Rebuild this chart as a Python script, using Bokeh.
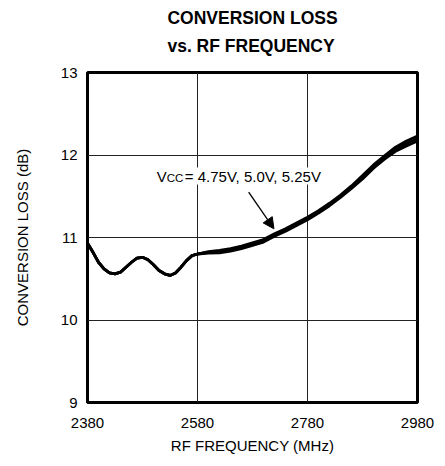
from bokeh.plotting import figure
from bokeh.models import FixedTicker, Label, Arrow, NormalHead, Range1d, Title
from bokeh.embed import file_html
from bokeh.resources import INLINE
import math

# ---- data ----
freq = [2380, 2390, 2400, 2410, 2420, 2430, 2440, 2450, 2460, 2470, 2480, 2490,
        2500, 2510, 2520, 2530, 2540, 2550, 2560, 2570, 2580, 2600, 2620, 2640,
        2660, 2680, 2700, 2720, 2740, 2760, 2780, 2800, 2820, 2840, 2860, 2880,
        2900, 2920, 2940, 2960, 2980]
loss_500 = [10.93, 10.82, 10.70, 10.62, 10.57, 10.56, 10.58, 10.64, 10.70, 10.75, 10.76, 10.73,
            10.67, 10.60, 10.56, 10.54, 10.57, 10.64, 10.72, 10.78, 10.80, 10.82, 10.83, 10.85,
            10.88, 10.92, 10.96, 11.03, 11.09, 11.16, 11.23, 11.31, 11.40, 11.50, 11.61, 11.73,
            11.86, 11.97, 12.07, 12.14, 12.20]
loss_475 = [10.93, 10.82, 10.70, 10.62, 10.57, 10.56, 10.58, 10.64, 10.70, 10.75, 10.76, 10.73,
            10.67, 10.60, 10.56, 10.54, 10.57, 10.64, 10.72, 10.78, 10.80, 10.83, 10.845, 10.865,
            10.895, 10.935, 10.975, 11.045, 11.105, 11.175, 11.245, 11.325, 11.415, 11.515, 11.625, 11.75,
            11.88, 11.99, 12.095, 12.17, 12.23]
loss_525 = [10.93, 10.82, 10.70, 10.62, 10.57, 10.56, 10.58, 10.64, 10.70, 10.75, 10.76, 10.73,
            10.67, 10.60, 10.56, 10.54, 10.57, 10.64, 10.72, 10.78, 10.80, 10.81, 10.815, 10.835,
            10.865, 10.905, 10.945, 11.015, 11.075, 11.145, 11.215, 11.295, 11.385, 11.485, 11.595, 11.71,
            11.84, 11.95, 12.045, 12.11, 12.17]
x_ticks = [2380, 2580, 2780, 2980]
y_ticks = [9, 10, 11, 12, 13]

FONT = "Liberation Sans"

p = figure(width=442, height=462, output_backend="svg", toolbar_location=None,
           x_range=Range1d(2380, 2980), y_range=Range1d(9, 13),
           min_border_left=87, min_border_right=25, min_border_top=72, min_border_bottom=60)
p.title.text = "CONVERSION LOSS\nvs. RF FREQUENCY"
p.title.align = "center"
p.title.text_font = FONT
p.title.text_font_size = "17.5px"
p.title.text_font_style = "bold"
p.title.text_color = "black"
p.title.text_line_height = 1.4

# spacer that lifts the title away from the frame
p.add_layout(Title(text=" ", text_font_size="9px", standoff=0), "above")

p.outline_line_color = "black"
p.outline_line_width = 3
p.outline_line_alpha = 1

for g, tk in ((p.xgrid, x_ticks), (p.ygrid, y_ticks)):
    g.ticker = FixedTicker(ticks=tk)
    g.grid_line_color = "#222222"
    g.grid_line_width = 1
    g.grid_line_alpha = 1

p.xaxis.ticker = FixedTicker(ticks=x_ticks)
p.yaxis.ticker = FixedTicker(ticks=y_ticks)
for ax in (p.xaxis[0], p.yaxis[0]):
    ax.axis_line_color = None
    ax.major_tick_line_color = None
    ax.minor_tick_line_color = None
    ax.major_label_text_font = FONT
    ax.major_label_text_font_size = "15px"
    ax.major_label_text_color = "black"
    ax.axis_label_text_font = FONT
    ax.axis_label_text_font_size = "15px"
    ax.axis_label_text_font_style = "normal"
    ax.axis_label_text_color = "black"
p.xaxis.axis_label = "RF FREQUENCY (MHz)"
p.yaxis.axis_label = "CONVERSION LOSS (dB)"
p.xaxis.major_label_standoff = 9
p.xaxis.axis_label_standoff = 6
p.yaxis.major_label_standoff = 4
p.yaxis.axis_label_standoff = 27

for ys in (loss_475, loss_500, loss_525):
    p.line(freq, ys, line_color="black", line_width=2.8)

# annotation text with white background (breaks gridlines)
lx, ly = 2506, 11.745
lab_v = Label(x=lx, y=ly, text="V", text_font=FONT, text_font_size="15px", text_color="black",
              background_fill_color="white", text_baseline="alphabetic")
lab_cc = Label(x=lx, y=ly, x_offset=10, y_offset=-2, text="CC", text_font=FONT, text_color="black",
               text_font_size="11.5px", background_fill_color="white", text_baseline="alphabetic")
lab_rest = Label(x=lx, y=ly, x_offset=28, text="= 4.75V, 5.0V, 5.25V", text_font=FONT,
                 text_color="black", text_font_size="15px", background_fill_color="white",
                 text_baseline="alphabetic")
for l in (lab_v, lab_cc, lab_rest):
    p.add_layout(l)

p.add_layout(Arrow(x_start=2673, y_start=11.55, x_end=2719, y_end=11.105,
                   line_color="black", line_width=1.3,
                   end=NormalHead(size=11, fill_color="black", line_color="black")))

p.add_layout(Label(x=2980, y=13, x_offset=20, text="MAX2022 toc60", angle=math.pi / 2,
                   text_align="right", text_baseline="bottom", text_font=FONT,
                   text_color="black", text_font_size="11px"))

open("out.html", "w").write(file_html(p, INLINE))
